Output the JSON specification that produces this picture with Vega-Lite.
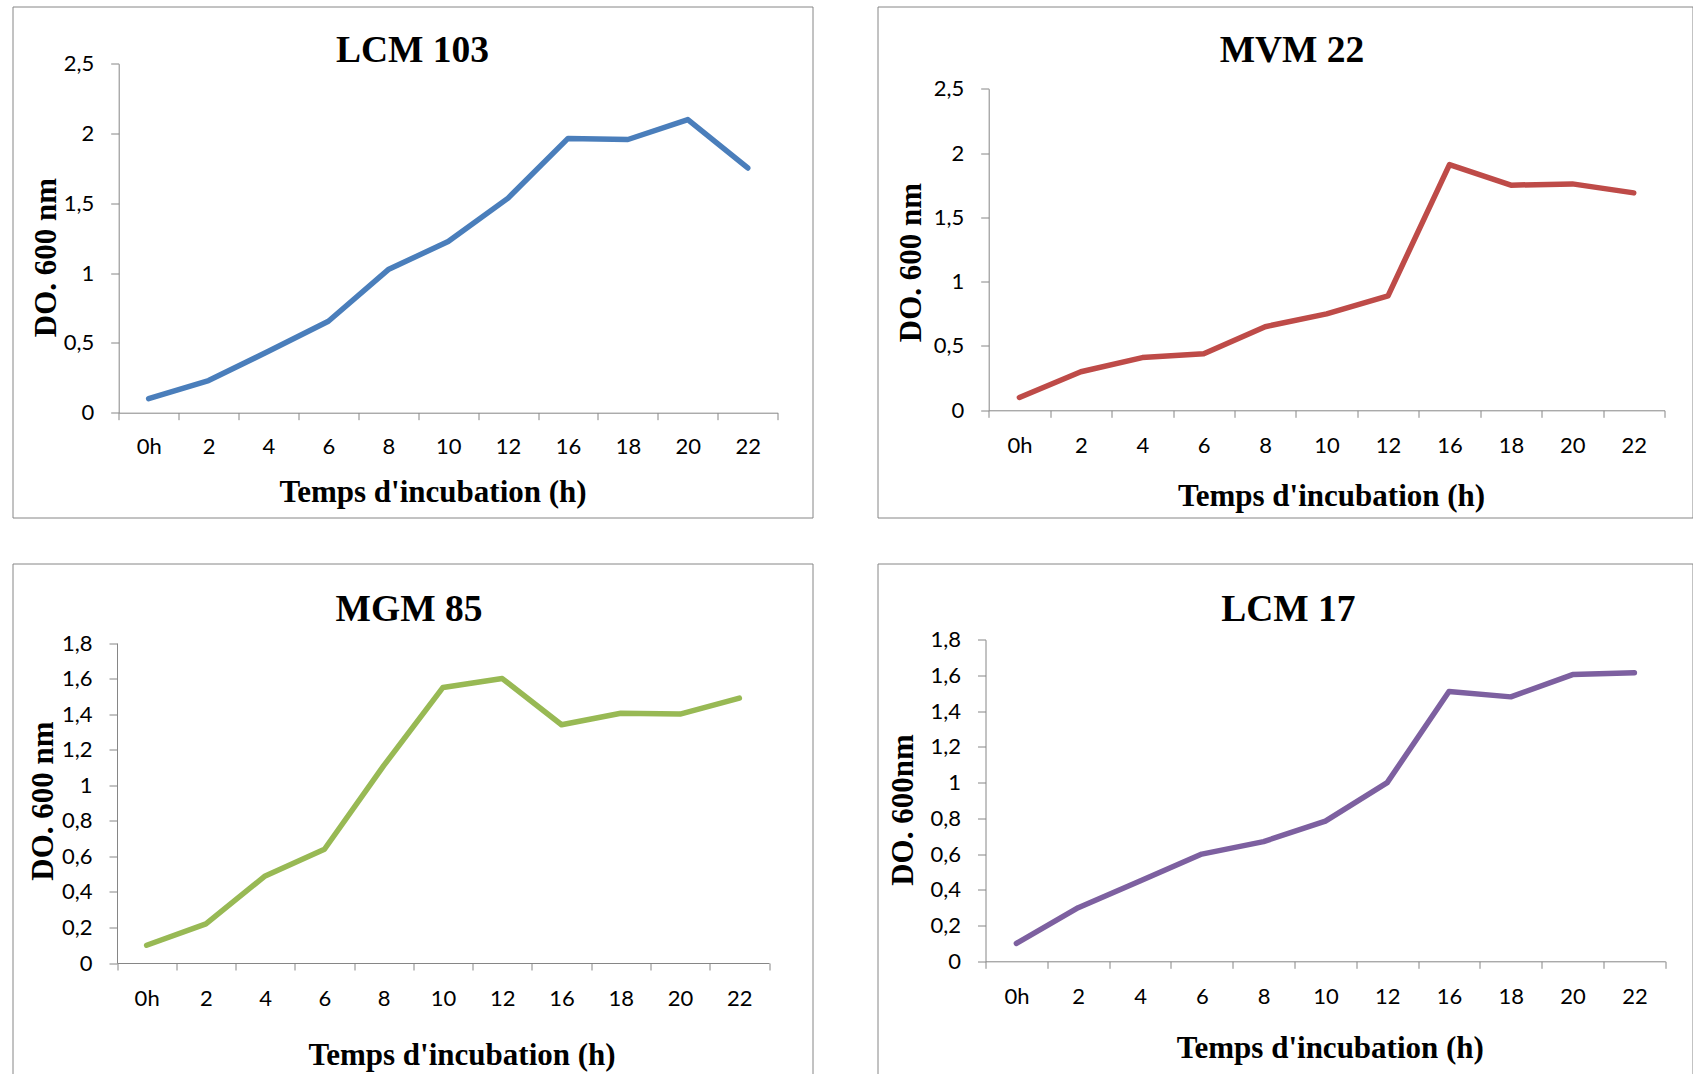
{
  "$schema": "https://vega.github.io/schema/vega-lite/v6.json",
  "padding": {"left": 11.5, "top": 5.5, "right": 0, "bottom": 0},
  "background": "white",
  "spacing": 44,
  "datasets": {
    "d1": [
      {"t": "0h", "v": 0.10}, {"t": "2", "v": 0.23}, {"t": "4", "v": 0.44}, {"t": "6", "v": 0.655},
      {"t": "8", "v": 1.025}, {"t": "10", "v": 1.227}, {"t": "12", "v": 1.537}, {"t": "16", "v": 1.965},
      {"t": "18", "v": 1.957}, {"t": "20", "v": 2.10}, {"t": "22", "v": 1.753}
    ],
    "d2": [
      {"t": "0h", "v": 0.10}, {"t": "2", "v": 0.30}, {"t": "4", "v": 0.41}, {"t": "6", "v": 0.44},
      {"t": "8", "v": 0.65}, {"t": "10", "v": 0.75}, {"t": "12", "v": 0.89}, {"t": "16", "v": 1.91},
      {"t": "18", "v": 1.75}, {"t": "20", "v": 1.76}, {"t": "22", "v": 1.69}
    ],
    "d3": [
      {"t": "0h", "v": 0.10}, {"t": "2", "v": 0.22}, {"t": "4", "v": 0.49}, {"t": "6", "v": 0.64},
      {"t": "8", "v": 1.11}, {"t": "10", "v": 1.55}, {"t": "12", "v": 1.60}, {"t": "16", "v": 1.34},
      {"t": "18", "v": 1.405}, {"t": "20", "v": 1.40}, {"t": "22", "v": 1.49}
    ],
    "d4": [
      {"t": "0h", "v": 0.10}, {"t": "2", "v": 0.30}, {"t": "4", "v": 0.45}, {"t": "6", "v": 0.60},
      {"t": "8", "v": 0.67}, {"t": "10", "v": 0.785}, {"t": "12", "v": 1.00}, {"t": "16", "v": 1.51},
      {"t": "18", "v": 1.48}, {"t": "20", "v": 1.605}, {"t": "22", "v": 1.615}
    ]
  },
  "vconcat": [
    {
      "hconcat": [
        {
          "width": 800, "height": 511,
          "title": {"text": "LCM 103", "dx": 0, "offset": -63},
          "data": {"name": "d1"},
          "mark": {"type": "line", "color": "#4A7EBB", "strokeWidth": 5.5, "strokeCap": "round", "strokeJoin": "round"},
          "encoding": {
            "x": {"field": "t", "type": "ordinal", "sort": null, "bandPosition": 0.5,
                  "scale": {"type": "band", "range": [106.2, 765.2], "paddingInner": 0, "paddingOuter": 0},
                  "axis": {"offset": -104.8, "title": "Temps d'incubation (h)", "titleX": 420, "titleY": 88.3, "labelPadding": 33.5}},
            "y": {"field": "v", "type": "quantitative",
                  "scale": {"domain": [0, 2.5], "range": [406.2, 57.2], "nice": false, "zero": true},
                  "axis": {"offset": -106.2, "values": [0, 0.5, 1, 1.5, 2, 2.5], "title": "DO. 600 nm", "titleX": -62.7, "titleY": 250.5}}
          }
        },
        {
          "width": 815, "height": 511,
          "title": {"text": "MVM 22", "dx": 7, "offset": -63},
          "data": {"name": "d2"},
          "mark": {"type": "line", "color": "#BE4B48", "strokeWidth": 5.5, "strokeCap": "round", "strokeJoin": "round"},
          "encoding": {
            "x": {"field": "t", "type": "ordinal", "sort": null, "bandPosition": 0.5,
                  "scale": {"type": "band", "range": [111.2, 787], "paddingInner": 0, "paddingOuter": 0},
                  "axis": {"offset": -107.2, "title": "Temps d'incubation (h)", "titleX": 453.5, "titleY": 95.5}},
            "y": {"field": "v", "type": "quantitative",
                  "scale": {"domain": [0, 2.5], "range": [403.8, 82.2], "nice": false, "zero": true},
                  "axis": {"offset": -111.2, "values": [0, 0.5, 1, 1.5, 2, 2.5], "title": "DO. 600 nm", "titleX": -68.7, "titleY": 255.5}}
          }
        }
      ],
      "spacing": 65,
      "bounds": "flush"
    },
    {
      "hconcat": [
        {
          "width": 800, "height": 516,
          "title": {"text": "MGM 85", "dx": -3.5, "offset": -65},
          "data": {"name": "d3"},
          "mark": {"type": "line", "color": "#98B954", "strokeWidth": 5.5, "strokeCap": "round", "strokeJoin": "round"},
          "encoding": {
            "x": {"field": "t", "type": "ordinal", "sort": null, "bandPosition": 0.5,
                  "scale": {"type": "band", "range": [104.5, 756.5], "paddingInner": 0, "paddingOuter": 0},
                  "axis": {"offset": -116.5, "title": "Temps d'incubation (h)", "titleX": 449, "titleY": 101}},
            "y": {"field": "v", "type": "quantitative",
                  "scale": {"domain": [0, 1.8], "range": [399.5, 79.5], "nice": false, "zero": true},
                  "axis": {"offset": -104.5, "values": [0, 0.2, 0.4, 0.6, 0.8, 1, 1.2, 1.4, 1.6, 1.8], "title": "DO. 600 nm", "titleX": -64.5, "titleY": 237}}
          }
        },
        {
          "width": 815, "height": 516,
          "title": {"text": "LCM 17", "dx": 3.4, "offset": -65},
          "data": {"name": "d4"},
          "mark": {"type": "line", "color": "#7D60A0", "strokeWidth": 5.5, "strokeCap": "round", "strokeJoin": "round"},
          "encoding": {
            "x": {"field": "t", "type": "ordinal", "sort": null, "bandPosition": 0.5,
                  "scale": {"type": "band", "range": [108, 787.8], "paddingInner": 0, "paddingOuter": 0},
                  "axis": {"offset": -118.2, "title": "Temps d'incubation (h)", "titleX": 452.3, "titleY": 95.7}},
            "y": {"field": "v", "type": "quantitative",
                  "scale": {"domain": [0, 1.8], "range": [397.8, 76.2], "nice": false, "zero": true},
                  "axis": {"offset": -108, "values": [0, 0.2, 0.4, 0.6, 0.8, 1, 1.2, 1.4, 1.6, 1.8], "title": "DO. 600nm", "titleX": -73.5, "titleY": 246}}
          }
        }
      ],
      "spacing": 65,
      "bounds": "flush"
    }
  ],
  "config": {
    "view": {"stroke": "#868686", "strokeWidth": 1},
    "title": {"font": "Liberation Serif", "fontWeight": "bold", "fontSize": 37.5, "color": "#000000", "anchor": "middle", "frame": "group", "baseline": "alphabetic", "orient": "top"},
    "axis": {"domainColor": "#868686", "tickColor": "#868686", "domainWidth": 1, "tickWidth": 1, "grid": false,
             "labelFont": "Lato", "labelFontSize": 22, "labelColor": "#000000", "labelOverlap": false, "labelFlush": false,
             "titleFont": "Liberation Serif", "titleFontWeight": "bold", "titleFontSize": 31, "titleColor": "#000000", "titleBaseline": "alphabetic", "titleAlign": "center"},
    "axisX": {"tickSize": 7, "labelPadding": 35.5, "labelBaseline": "alphabetic", "labelAngle": 0, "tickBand": "extent", "titleAngle": 0},
    "axisY": {"tickSize": 8, "labelPadding": 17, "titleAngle": 270, "labelExpr": "replace(toString(datum.value), '.', ',')"}
  }
}
